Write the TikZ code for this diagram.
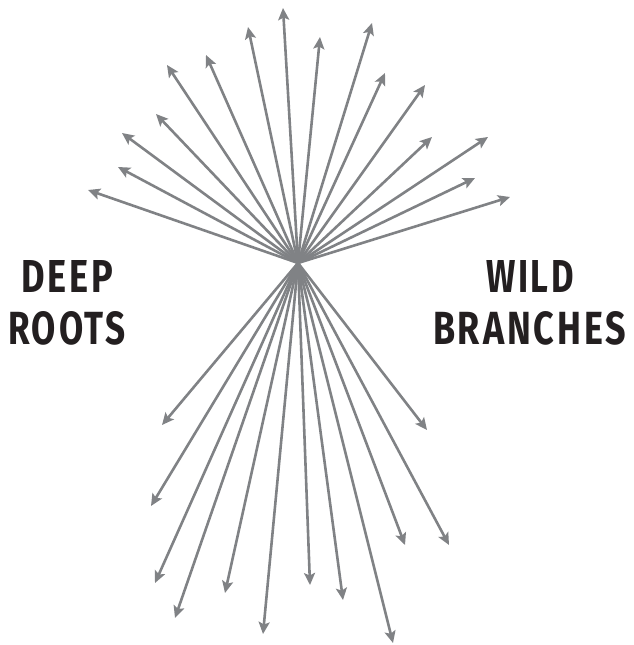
\documentclass[tikz,border=0pt]{standalone}
\usepackage{fontspec}
\usepackage{graphicx}
\setmainfont{Fira Sans}
\newfontfamily\lblfont{Fira Sans}[LetterSpace=8]
\usetikzlibrary{arrows.meta}
\definecolor{raygray}{HTML}{808285}
\definecolor{ink}{HTML}{231F20}
\tikzset{
  ray/.style={draw=raygray, line width=2.6pt, -{Stealth[length=12pt,width=11pt,inset=2.5pt]}},
  label/.style={inner sep=0pt, outer sep=0pt, anchor=north west, text=ink}
}
\begin{document}
\begin{tikzpicture}[x=1pt,y=-1pt]
\useasboundingbox (0,0) rectangle (633,645);
\coordinate (c) at (298,263);
\foreach \n/\x/\y in {u1/283/8, u2/248/27, u3/206/55, u4/167/65, u5/156/114, u6/122/133, u7/118/167, u8/88/190,
  u9/320/37, u10/372/23, u11/385/73, u12/425/85, u13/432/137, u14/488/137, u15/475/178, u16/510/197,
  d1/162/425, d2/151/506, d3/155/583, d4/175/618, d5/225/593, d6/263/634,
  d7/427/430, d8/449/545, d9/405/545, d10/310/585, d11/343/600, d12/393/643}
{
  \coordinate (\n) at (\x,\y);
  \draw[ray] (c) -- (\n);
}
\node[label] (deep) at (21,260) {\resizebox{92pt}{32pt}{\lblfont\bfseries DEEP}};
\node[label] (roots) at (8,311) {\resizebox{118pt}{33pt}{\lblfont\bfseries ROOTS}};
\node[label] (wild) at (486,260) {\resizebox{88pt}{32pt}{\lblfont\bfseries WILD}};
\node[label] (branches) at (433,311) {\resizebox{193pt}{33pt}{\lblfont\bfseries BRANCHES}};
\end{tikzpicture}
\end{document}
